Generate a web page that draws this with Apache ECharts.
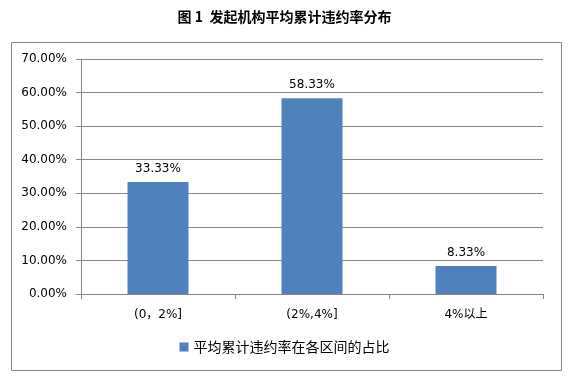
<!DOCTYPE html>
<html><head><meta charset="utf-8">
<script src="https://cdn.jsdelivr.net/npm/echarts@6/dist/echarts.min.js"></script>
<style>html,body{margin:0;padding:0;background:#fff}#c{width:569px;height:379px}</style>
</head><body><div id="c"></div>
<script>
const categories = ['(0，2%]', '(2%,4%]', '4%以上'];
const values = [33.33, 58.33, 8.33];
const yTicks = [0, 10, 20, 30, 40, 50, 60, 70];
const seriesName = '平均累计违约率在各区间的占比';
const titleText = '图 1  发起机构平均累计违约率分布';

const chart = echarts.init(document.getElementById('c'));
chart.setOption({
  animation: false,
  title: {
    text: titleText, left: 'center', top: 5,
    textStyle: { fontFamily: '"Noto Sans CJK SC", "Liberation Serif", serif', fontSize: 14, fontWeight: 'bold', color: '#000' }
  },
  graphic: [{
    type: 'rect', shape: { x: 11.5, y: 42.5, width: 550, height: 328 },
    style: { fill: 'none', stroke: '#868686', lineWidth: 1 }, z: -1
  }],
  legend: {
    data: [seriesName], bottom: 20, left: 'center',
    icon: 'rect', itemWidth: 9, itemHeight: 9, itemGap: 4,
    textStyle: { fontFamily: '"Noto Sans CJK SC", sans-serif', fontSize: 14, color: '#000' }
  },
  grid: { left: 81, right: 26, top: 59, bottom: 85 },
  xAxis: {
    type: 'category', data: categories,
    axisLine: { lineStyle: { color: '#868686' } },
    axisTick: { show: true, length: 5, lineStyle: { color: '#868686' } },
    axisLabel: { margin: 15, fontFamily: '"DejaVu Sans", "Noto Sans CJK SC", sans-serif', fontSize: 12, color: '#000' }
  },
  yAxis: {
    type: 'value', min: yTicks[0], max: yTicks[yTicks.length - 1], interval: 10,
    axisLine: { show: true, lineStyle: { color: '#868686' } },
    axisTick: { show: true, length: 5, lineStyle: { color: '#868686' } },
    splitLine: { lineStyle: { color: '#868686' } },
    axisLabel: { margin: 14, fontFamily: '"DejaVu Sans", sans-serif', fontSize: 12, color: '#000',
      formatter: v => v.toFixed(2) + '%' }
  },
  series: [{
    name: seriesName, type: 'bar', data: values, barWidth: 61,
    itemStyle: { color: '#4f81bd' },
    label: { show: true, position: 'top', distance: 7, color: '#000',
      fontFamily: '"DejaVu Sans", sans-serif', fontSize: 12,
      formatter: p => p.value.toFixed(2) + '%' }
  }]
});
</script></body></html>
